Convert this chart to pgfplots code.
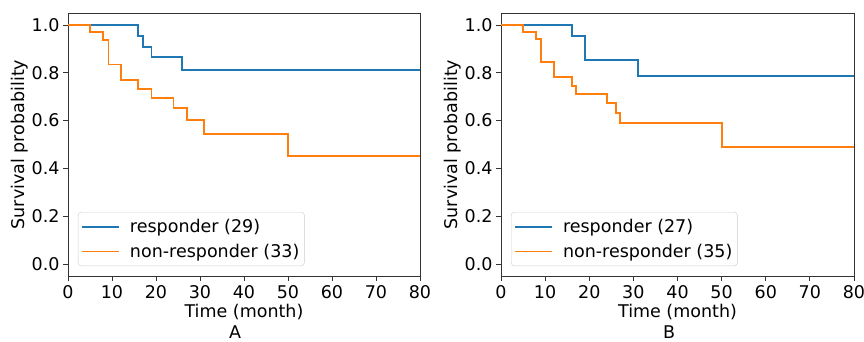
\documentclass[border=0pt]{standalone}
\usepackage{fontspec}
\setmainfont{DejaVu Sans}
\usepackage{pgfplots}
\pgfplotsset{compat=1.18}
\definecolor{tabblue}{HTML}{1F77B4}
\definecolor{taborange}{HTML}{FF7F0E}
\newcommand{\fs}{\fontsize{17.5}{21}\selectfont}
\pgfplotsset{
  kmaxis/.style={
    scale only axis, anchor=south west,
    width=352pt, height=263pt,
    xmin=0, xmax=80, ymin=-0.05, ymax=1.05,
    xtick={0,10,...,80}, ytick={0,0.2,0.4,0.6,0.8,1.0},
    /pgf/number format/assume math mode=true,
    yticklabel style={/pgf/number format/fixed,/pgf/number format/fixed zerofill,/pgf/number format/precision=1},
    tick align=outside, tick pos=left, major tick length=5pt,
    every tick/.style={black!80, line width=0.8pt},
    axis line style={black!80, line width=0.8pt},
    tick label style={font=\fs},
    xticklabel style={yshift=-1pt},
    every axis y label/.style={at={(axis description cs:-0.136,0.5)},rotate=90,anchor=center,font=\fs},
    every axis x label/.style={at={(axis description cs:0.5,-0.137)},anchor=center,font=\fs},
    xlabel={Time (month)}, ylabel={Survival probability},
    legend style={at={(axis description cs:0.0284,0.038)}, anchor=south west,
      font=\fs, draw=black!20, rounded corners=3pt, fill=white, fill opacity=0.8, text opacity=1,
      inner xsep=3pt, inner ysep=5pt, row sep=6pt,
      /tikz/every odd column/.append style={column sep=8pt}},
    legend cell align=left,
    legend image code/.code={\draw[#1] (0pt,0pt) -- (37pt,0pt);},
  },
  kmline/.style={const plot, mark=none, line width=1.8pt},
}
\begin{document}
\begin{tikzpicture}
\begin{axis}[kmaxis, at={(68pt,66pt)}]
\addplot[kmline, tabblue] coordinates {(0,1) (16,0.955) (17,0.909) (19,0.865) (26,0.813) (80,0.813)};
\addlegendentry{responder (29)}
\addplot[kmline, taborange] coordinates {(0,1) (5,0.969) (8,0.938) (9.2,0.835) (12,0.769) (16,0.733) (19,0.695) (24,0.654) (27,0.603) (31,0.544) (50,0.453) (80,0.453)};
\addlegendentry{non-responder (33)}
\end{axis}
\begin{axis}[kmaxis, at={(501pt,66pt)}, width=353pt]
\addplot[kmline, tabblue] coordinates {(0,1) (16,0.953) (19,0.854) (31,0.788) (80,0.788)};
\addlegendentry{responder (27)}
\addplot[kmline, taborange] coordinates {(0,1) (5,0.971) (8,0.94) (9,0.845) (12,0.782) (16,0.746) (17,0.711) (24,0.674) (26,0.633) (27,0.589) (50,0.490) (80,0.490)};
\addlegendentry{non-responder (35)}
\end{axis}
\node[font=\fs, anchor=south, inner sep=0pt] at (235pt,3pt) {A};
\node[font=\fs, anchor=south, inner sep=0pt] at (669pt,3pt) {B};
\pgfresetboundingbox
\useasboundingbox (0pt,0pt) rectangle (864pt,342pt);
\end{tikzpicture}
\end{document}
